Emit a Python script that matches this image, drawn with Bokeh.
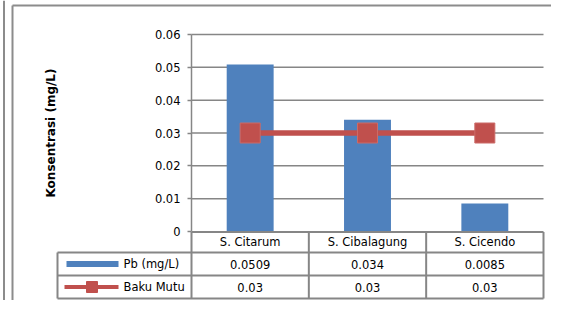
from bokeh.plotting import figure
from bokeh.models import Range1d, FixedTicker, LinearAxis, ColumnDataSource
from bokeh.embed import file_html
from bokeh.resources import INLINE
from bokeh.core.properties import value

# ---- data ----
categories = ["S. Citarum", "S. Cibalagung", "S. Cicendo"]
pb_values = [0.0509, 0.034, 0.0085]
pb_labels = ["0.0509", "0.034", "0.0085"]
baku_values = [0.03, 0.03, 0.03]
baku_labels = ["0.03", "0.03", "0.03"]
series_names = ["Pb (mg/L)", "Baku Mutu"]
y_ticks = [0, 0.01, 0.02, 0.03, 0.04, 0.05, 0.06]
y_tick_labels = ["0", "0.01", "0.02", "0.03", "0.04", "0.05", "0.06"]
y_title = "Konsentrasi (mg/L)"

BLUE = "#4F81BD"
RED = "#C0504D"
GRID = "#868686"
FRAME = "#8C8C8C"
FONT = "DejaVu Sans"

W, H = 551, 300
n = len(categories)
Y_MAX = y_ticks[-1]

# layout in canvas pixels: plot area 191..543 (x), 34..231 (y)
PX_L, PX_R, PY_T, PY_B = 191, 543, 34, 231
PPU = (PX_R - PX_L) / n
PPV = (PY_B - PY_T) / Y_MAX


def X(px):
    return (px - PX_L) / PPU


def Y(py):
    return (PY_B - py) / PPV


p = figure(width=W, height=H, x_range=Range1d(X(0), X(W)), y_range=Range1d(Y(H), Y(0)),
           output_backend="svg", toolbar_location=None,
           x_axis_location=None, y_axis_location=None, min_border=0)
p.outline_line_color = None
p.grid.visible = False

# value axis, fixed at the left edge of the plot area
yax = LinearAxis(fixed_location=0, bounds=(0, Y_MAX), ticker=FixedTicker(ticks=y_ticks))
yax.major_label_overrides = {t: s for t, s in zip(y_ticks, y_tick_labels)}
yax.axis_line_color = GRID
yax.axis_line_width = 1.5
yax.major_tick_line_color = GRID
yax.major_tick_line_width = 1.5
yax.major_tick_out = 4
yax.major_tick_in = 0
yax.minor_tick_line_color = None
yax.major_label_standoff = 7
yax.major_label_text_font = FONT
yax.major_label_text_font_size = "11.5px"
yax.major_label_text_color = "black"
yax.axis_label = y_title
yax.axis_label_text_font = FONT
yax.axis_label_text_font_size = "12px"
yax.axis_label_text_font_style = "bold"
yax.axis_label_text_color = "black"
yax.axis_label_standoff = 94
p.add_layout(yax, "left")

# horizontal gridlines across the plot area only
gt = y_ticks[1:]
p.segment(x0=[0] * len(gt), y0=gt, x1=[n] * len(gt), y1=gt,
          line_color=GRID, line_width=1.5)

xc = [i + 0.5 for i in range(n)]
src = ColumnDataSource(dict(x=xc, pb=pb_values, baku=baku_values))
p.vbar(x="x", top="pb", width=0.4, source=src, fill_color=BLUE, line_color=None)
p.line(x="x", y="baku", source=src, line_color=RED, line_width=5.5)
p.scatter(x="x", y="baku", source=src, marker="square", size=20,
          fill_color=RED, line_color="#CB6B68", line_width=1)

# ---- data table under the plot ----
rows_px = [231.5, 252, 275, 298]
rows = [Y(r) for r in rows_px]
leg_left = X(57)
p.segment(x0=[0, leg_left, leg_left, leg_left], y0=rows, x1=[n] * 4, y1=rows,
          line_color=GRID, line_width=2)
vx = list(range(n + 1))
p.segment(x0=vx, y0=[rows[0]] * len(vx), x1=vx, y1=[rows[-1]] * len(vx),
          line_color=GRID, line_width=2)
p.segment(x0=[leg_left], y0=[rows[1]], x1=[leg_left], y1=[rows[-1]],
          line_color=GRID, line_width=2)

rc = [(rows[i] + rows[i + 1]) / 2 for i in range(3)]
txt = dict(text_font=value(FONT), text_font_size="11.5px", text_align="center",
           text_baseline="middle", text_color="black")
p.text(x=xc, y=[rc[0]] * n, text=categories, **txt)
p.text(x=xc, y=[rc[1]] * n, text=pb_labels, **txt)
p.text(x=xc, y=[rc[2]] * n, text=baku_labels, **txt)

# legend keys inside the table
half = 3 / PPV
p.quad(left=[X(66)], right=[X(118)], top=[rc[1] + half], bottom=[rc[1] - half],
       fill_color=BLUE, line_color=None)
p.segment(x0=[X(64)], y0=[rc[2]], x1=[X(118)], y1=[rc[2]], line_color=RED, line_width=4)
p.scatter(x=[X(91.5)], y=[rc[2]], marker="square", size=11,
          fill_color=RED, line_color=RED)
p.text(x=[X(123)] * 2, y=[rc[1], rc[2]], text=series_names,
       text_font=value(FONT), text_font_size="11.5px", text_align="left",
       text_baseline="middle", text_color="black")

# outer chart frame
p.segment(x0=[X(12), X(12), X(3.5)], y0=[Y(5), Y(5), Y(0)],
          x1=[X(12), X(W), X(3.5)], y1=[Y(H), Y(5), Y(H)],
          line_color=FRAME, line_width=2)

open("out.html", "w").write(file_html(p, INLINE))
